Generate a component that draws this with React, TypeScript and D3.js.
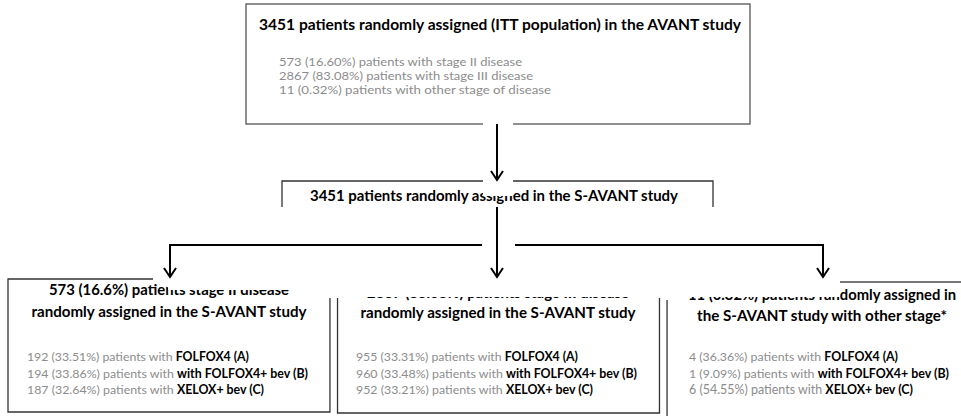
import React from 'react';
import * as d3 from 'd3';

// AVANT / S-AVANT flow of patients
const ittTotal = 3451;
const stageCounts = [573, 2867, 11];
const stagePcts = ['16.60%', '83.08%', '0.32%'];
const stageLabels = ['stage II disease', 'stage III disease', 'other stage of disease'];

const groupLine1 = [
  '573 (16.6%) patients stage II disease',
  '2867 (83.08%) patients stage III disease',
  '11 (0.32%) patients randomly assigned in',
];
const groupLine2 = [
  'randomly assigned in the S-AVANT study',
  'randomly assigned in the S-AVANT study',
  'the S-AVANT study with other stage*',
];

const armLabels = ['FOLFOX4 (A)', 'with FOLFOX4+ bev (B)', 'XELOX+ bev (C)'];
const armCounts = [
  [192, 194, 187],
  [955, 960, 952],
  [4, 1, 6],
];
const armPcts = [
  ['33.51%', '33.86%', '32.64%'],
  ['33.31%', '33.48%', '33.21%'],
  ['36.36%', '9.09%', '54.55%'],
];

const W = 961;
const H = 416;
const FONT = 'Lato, "Open Sans", sans-serif';
const GRAY = '#8c8c8c';

// text widths (Calibri)
const stageWidths = [243, 254, 272];
const line1Widths = [240, 262, 268];
const line2Widths = [275, 275, 250];
const armWidths = [
  [222, 281, 237],
  [222, 281, 237],
  [209, 260, 224],
];

// size Lato so that it takes the width Calibri took
const ctx = typeof document !== 'undefined' ? document.createElement('canvas').getContext('2d') : null;
function fitSize(parts: [string, string][], width: number, fallback: number) {
  if (!ctx) return fallback;
  let w = 0;
  parts.forEach(([s, weight]) => {
    ctx.font = `${weight} 100px Lato`;
    w += ctx.measureText(s).width;
  });
  return w > 0 ? (100 * width) / w : fallback;
}

const Arrow = ({ x, y1, y2 }: { x: number; y1: number; y2: number }) => {
  const p = d3.path();
  p.moveTo(x, y1);
  p.lineTo(x, y2);
  p.moveTo(x - 6, y2 - 9);
  p.lineTo(x, y2);
  p.lineTo(x + 6, y2 - 9);
  return <path d={p.toString()} fill="none" stroke="#000" strokeWidth={2} />;
};

const Fitted = ({ x, y, str, width, bold, anchor, fill, max }: any) => {
  const size = Math.min(fitSize([[str, bold ? 'bold' : 'normal']], width, 15), max ?? 99);
  return (
    <text x={x} y={y} textAnchor={anchor} fontWeight={bold ? 'bold' : 'normal'} fill={fill ?? '#000'} fontSize={size} textLength={width} lengthAdjust="spacingAndGlyphs">
      {str}
    </text>
  );
};

export default function App() {
  const boxes = d3.scaleBand<number>().domain([0, 1, 2]).range([8, 989]).paddingInner(0.023);
  const bw = boxes.bandwidth();
  const boxTop = 279;
  const boxBottom = 413;
  const sideTop = 298;
  const titleCx = [169, 498, 822];
  const armX = [27, 356, 689];
  const line1Y = [295, 298, 300];
  const line2Y = [317, 318, 321];
  const armY = d3.scaleLinear().domain([0, 1]).range([361, 377.5]);
  const arrowX = [170, 497, 823];
  const branchY = 245;
  const stageY = d3.scaleLinear().domain([0, 1]).range([66, 80.2]);

  return (
    <svg width={W} height={H} style={{ position: 'absolute', left: 0, top: 0, background: '#fff' }} fontFamily={FONT}>
      {/* top box */}
      <rect x={246} y={4} width={504} height={120} fill="none" stroke="#555" strokeWidth={1.3} />
      <Fitted x={500} y={30} anchor="middle" bold str={`${ittTotal} patients randomly assigned (ITT population) in the AVANT study`} width={482} />
      {stageCounts.map((n, i) => (
        <Fitted key={i} x={279} y={stageY(i)} fill={GRAY} max={11.6} str={`${n} (${stagePcts[i]}) patients with ${stageLabels[i]}`} width={stageWidths[i]} />
      ))}
      <rect x={483} y={117} width={30} height={12} fill="#fff" />

      {/* S-AVANT box (bottom cut off) */}
      <path d={`M282,207V181H713V207`} fill="none" stroke="#333" strokeWidth={1.3} />
      <Fitted x={494} y={201} anchor="middle" bold str={`${ittTotal} patients randomly assigned in the S-AVANT study`} width={368} />
      <rect x={483} y={170} width={30} height={26} fill="#fff" />
      <Arrow x={497} y1={124} y2={180} />

      {/* branch connector */}
      <path d={`M${arrowX[0]},${branchY + 32}V${branchY}H${arrowX[2]}V${branchY + 32}`} fill="none" stroke="#000" strokeWidth={2} />
      <rect x={482} y={branchY - 5} width={33} height={10} fill="#fff" />

      {/* group boxes */}
      {[0, 1, 2].map((g) => {
        const x0 = boxes(g) as number;
        const x1 = x0 + bw;
        return (
          <g key={g}>
            {g === 0 && <path d={`M153,${boxTop}H${x0}V${boxBottom - 1}H${x1}V${sideTop}`} fill="none" stroke="#333" strokeWidth={1.3} />}
            {g === 1 && <path d={`M${x0},${sideTop}V${boxBottom}H${x1}V${sideTop}`} fill="none" stroke="#333" strokeWidth={1.3} />}
            {g === 2 && (
              <>
                <path d={`M${x0},${sideTop + 2}V${H}`} fill="none" stroke="#333" strokeWidth={1.3} />
                <path d={`M838,282H${W}`} fill="none" stroke="#777" strokeWidth={2} />
              </>
            )}
            <Fitted x={titleCx[g]} y={line1Y[g]} anchor="middle" bold str={groupLine1[g]} width={line1Widths[g]} />
            <Fitted x={titleCx[g]} y={line2Y[g]} anchor="middle" bold str={groupLine2[g]} width={line2Widths[g]} />
            {armLabels.map((lab, i) => {
              const head = `${armCounts[g][i]} (${armPcts[g][i]}) patients with `;
              const size = fitSize([[head, 'normal'], [lab, 'bold']], armWidths[g][i], 13);
              return (
                <text key={i} x={armX[g]} y={armY(i)} fontSize={size} fill={GRAY} textLength={armWidths[g][i]} lengthAdjust="spacingAndGlyphs">
                  {head}
                  <tspan fill="#000" fontWeight="bold">{lab}</tspan>
                </text>
              );
            })}
          </g>
        );
      })}
      {/* masks that clip the tops of the group headings */}
      <rect x={168} y={268} width={166} height={22} fill="#fff" />
      <rect x={336} y={268} width={324} height={29} fill="#fff" />
      <rect x={666} y={268} width={174} height={29} fill="#fff" />

      {arrowX.map((x) => (
        <Arrow key={x} x={x} y1={branchY} y2={277} />
      ))}
      <path d={`M497,207V${branchY}`} fill="none" stroke="#000" strokeWidth={2} />
    </svg>
  );
}
